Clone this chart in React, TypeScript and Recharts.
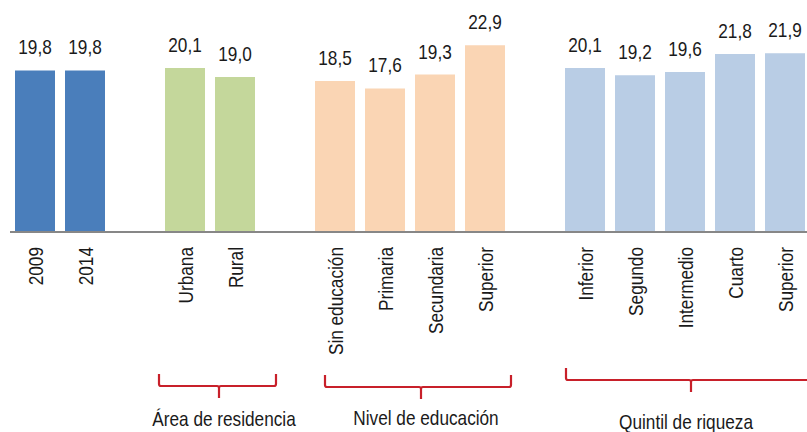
import React from 'react';
import { BarChart, Bar, XAxis, YAxis, Cell, LabelList } from 'recharts';

// categories (empty strings are spacer slots between groups)
const categories = [
  '2009', '2014', '',
  'Urbana', 'Rural', '',
  'Sin educación', 'Primaria', 'Secundaria', 'Superior', '',
  'Inferior', 'Segundo', 'Intermedio', 'Cuarto', 'Superior',
];
const values: (number | null)[] = [
  19.8, 19.8, null,
  20.1, 19.0, null,
  18.5, 17.6, 19.3, 22.9, null,
  20.1, 19.2, 19.6, 21.8, 21.9,
];
const barColors = [
  '#4A7EBB', '#4A7EBB', '',
  '#C4D79B', '#C4D79B', '',
  '#FAD5B4', '#FAD5B4', '#FAD5B4', '#FAD5B4', '',
  '#B9CDE5', '#B9CDE5', '#B9CDE5', '#B9CDE5', '#B9CDE5',
];

// group braces under the axis, in slot units
const groupLabels = ['Área de residencia', 'Nivel de educación', 'Quintil de riqueza'];
const groupStart = [2.98, 6.3, 11.12];
const groupEnd = [5.32, 10.02, 16.4];
const groupMid = [4.18, 8.22, 13.62];
const groupTop = [374, 375, 368];
const labelCenter = [4.28, 8.32, 13.52];
const labelBaseline = [426, 425, 429];

const slotTicks = categories.map((_, i) => i).concat([categories.length]);

const data = categories.map((name, i) => ({ key: `c${i}`, name, value: values[i] }));

// no Arial Narrow available: squeeze Liberation Sans horizontally instead
const FONT = '"Liberation Sans", Arial, sans-serif';
const NARROW = 0.82;
const FS = 21;
const TEXT = '#1a1a1a';
const W = 820;
const H = 432;
const LEFT = 10;
const RIGHT = 10;
const slotW = (W - LEFT - RIGHT) / categories.length;
const sx = (u: number) => LEFT + u * slotW;

const NarrowText = ({ x, y, rotate = 0, anchor = 'middle', dy, children }: any) => (
  <g transform={`translate(${x},${y}) rotate(${rotate}) scale(${NARROW},1)`}>
    <text x={0} y={0} dy={dy} textAnchor={anchor} fontSize={FS} fontFamily={FONT} fill={TEXT}>
      {children}
    </text>
  </g>
);

const RotatedTick = (props: any) => {
  const { x, y, index } = props;
  const label = categories[index];
  if (!label) return null;
  return (
    <NarrowText x={x} y={y + 14} rotate={-90} anchor="end" dy="0.36em">
      {label}
    </NarrowText>
  );
};

const ValueLabel = (props: any) => {
  const { x, y, width, value } = props;
  if (value == null) return null;
  return (
    <NarrowText x={x + width / 2} y={y - 16}>
      {Number(value).toFixed(1).replace('.', ',')}
    </NarrowText>
  );
};

const Brace = ({ i }: { i: number }) => {
  const x1 = sx(groupStart[i]);
  const x2 = sx(groupEnd[i]);
  const xm = sx(groupMid[i]);
  const top = groupTop[i];
  const yh = top + 12;
  const r = 2;
  const d = `M${x1},${top} L${x1},${yh - r} Q${x1},${yh} ${x1 + r},${yh} L${xm - r},${yh} Q${xm},${yh} ${xm},${yh + r} L${xm},${yh + 12} M${xm},${yh + r} Q${xm},${yh} ${xm + r},${yh} L${x2 - r},${yh} Q${x2},${yh} ${x2},${yh - r} L${x2},${top}`;
  return (
    <g>
      <path d={d} fill="none" stroke="#C8202A" strokeWidth={2.2} />
      <NarrowText x={sx(labelCenter[i])} y={labelBaseline[i]}>
        {groupLabels[i]}
      </NarrowText>
    </g>
  );
};

export default function App() {
  return (
    <div style={{ position: 'absolute', left: 0, top: 0, width: 807, height: 432, overflow: 'hidden', background: '#fff' }}>
      <BarChart
        width={W}
        height={H}
        data={data}
        margin={{ top: 28, right: RIGHT, left: LEFT, bottom: 0 }}
        barCategoryGap="10%"
      >
        <XAxis
          xAxisId="b_cat"
          dataKey="key"
          interval={0}
          height={199}
          axisLine={false}
          tickLine={false}
          tickSize={0}
          tickMargin={0}
          tick={<RotatedTick />}
        />
        <XAxis
          xAxisId="a_grid"
          type="number"
          domain={[0, categories.length]}
          ticks={slotTicks}
          interval={0}
          tick={false}
          height={1}
          tickSize={6}
          axisLine={{ stroke: '#878787', strokeWidth: 2 }}
          tickLine={{ stroke: '#878787', strokeWidth: 2 }}
          allowDataOverflow
        />
        <YAxis hide domain={[0, 25]} />
        <Bar dataKey="value" xAxisId="b_cat" isAnimationActive={false}>
          {data.map((d, i) => (
            <Cell key={d.key} fill={barColors[i] || 'transparent'} />
          ))}
          <LabelList dataKey="value" content={<ValueLabel />} />
        </Bar>
      </BarChart>
      <svg width={807} height={432} style={{ position: 'absolute', left: 0, top: 0, pointerEvents: 'none' }}>
        {groupLabels.map((_, i) => (
          <Brace key={i} i={i} />
        ))}
      </svg>
    </div>
  );
}
